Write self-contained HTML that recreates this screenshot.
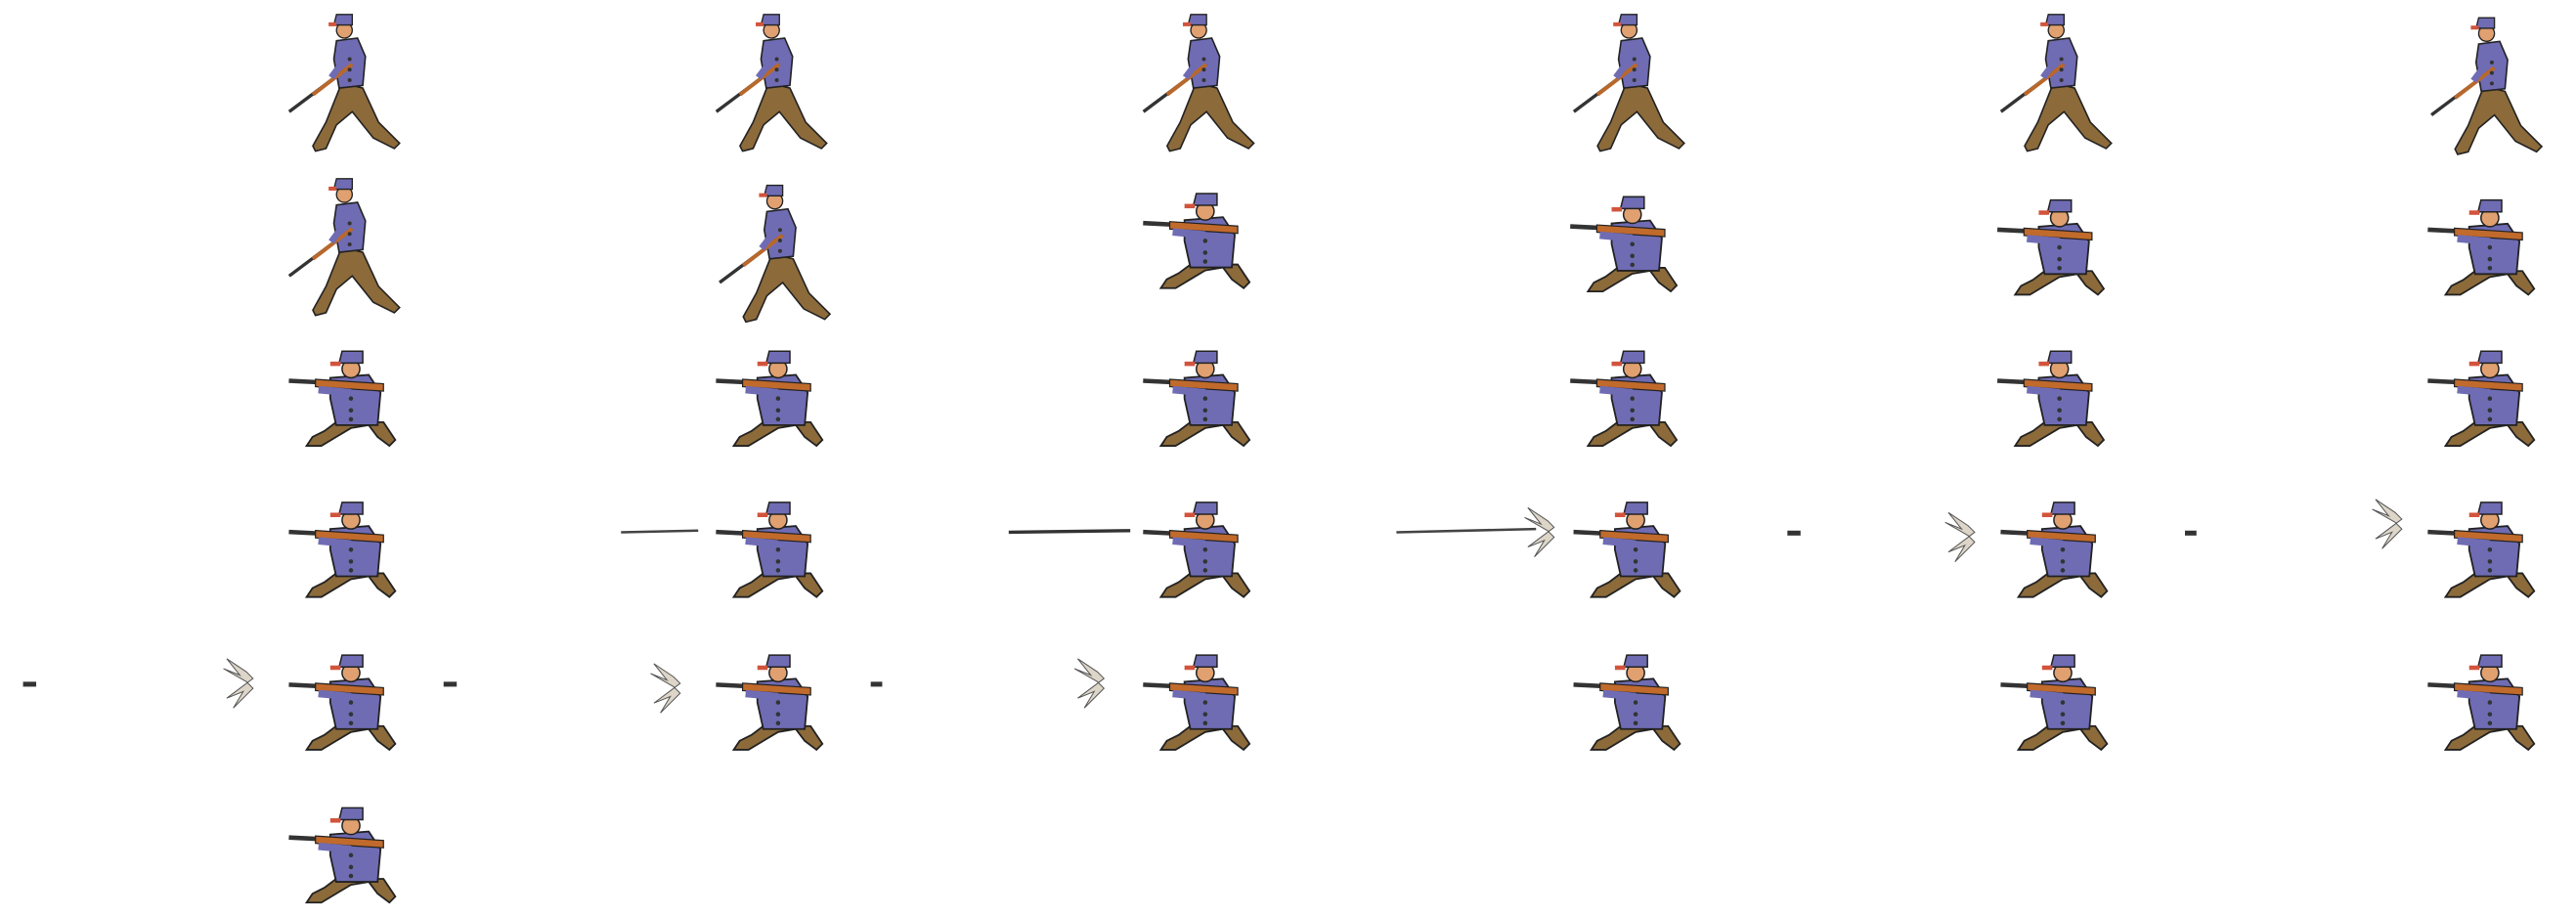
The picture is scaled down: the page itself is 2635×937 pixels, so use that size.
<!DOCTYPE html>
<html><head><meta charset="utf-8"><style>html,body{margin:0;padding:0;background:#fff;width:2635px;height:937px;overflow:hidden}</style></head>
<body>
<svg width="2635" height="937" viewBox="0 0 1568 557.6" xmlns="http://www.w3.org/2000/svg">
<defs>
<g id="stand"><g transform="scale(0.8)">
 <path d="M0 28 L-12 58 L-22 76 L-20 80 L-12 78 L-4 60 L8 50 L24 70 L40 78 L44 74 L28 58 L16 32 Z" fill="#8c6a3a" stroke="#222" stroke-width="1.2"/>
 <path d="M-4 -4 L12 -6 L18 8 L16 30 L-2 32 L-6 10 Z" fill="#6f6cb4" stroke="#222" stroke-width="1.2"/>
 <line x1="-40" y1="50" x2="8" y2="14" stroke="#333" stroke-width="2.5"/>
 <line x1="-22" y1="37" x2="8" y2="14" stroke="#b8682c" stroke-width="3"/>
 <path d="M12 4 L-2 16 L-8 24" stroke="#6f6cb4" stroke-width="5" fill="none"/>
 <circle cx="2" cy="-12" r="6" fill="#e0a070" stroke="#222" stroke-width="1"/>
 <path d="M-6 -16 L-4 -24 L8 -24 L8 -16 Z" fill="#6f6cb4" stroke="#222" stroke-width="1"/>
 <rect x="-10" y="-18" width="6" height="3" fill="#d2543c"/>
 <circle cx="6" cy="10" r="1.5" fill="#333"/><circle cx="6" cy="18" r="1.5" fill="#333"/><circle cx="6" cy="26" r="1.5" fill="#333"/>
</g></g>
<g id="kneel"><g transform="scale(0.9)">
 <path d="M-6 30 L-14 36 L-22 40 L-26 46 L-16 46 L-6 40 L4 34 L16 32 L22 40 L30 46 L34 42 L26 30 Z" fill="#8c6a3a" stroke="#222" stroke-width="1.2"/>
 <path d="M-10 0 L16 -2 L24 10 L22 32 L-6 32 L-10 14 Z" fill="#6f6cb4" stroke="#222" stroke-width="1.2"/>
 <line x1="-38" y1="2" x2="-18" y2="3" stroke="#333" stroke-width="3"/>
 <path d="M-20 1 L26 4 L26 9 L-20 6 Z" fill="#c06a2c" stroke="#222" stroke-width="0.8"/>
 <path d="M-18 8 L4 10" stroke="#6f6cb4" stroke-width="5"/>
 <circle cx="4" cy="-6" r="6" fill="#e0a070" stroke="#222" stroke-width="1"/>
 <path d="M-4 -10 L-2 -18 L12 -18 L12 -10 Z" fill="#6f6cb4" stroke="#222" stroke-width="1"/>
 <rect x="-10" y="-11" width="7" height="3" fill="#d2543c"/>
 <circle cx="4" cy="14" r="1.5" fill="#333"/><circle cx="4" cy="22" r="1.5" fill="#333"/><circle cx="4" cy="28" r="1.5" fill="#333"/>
</g></g>
<g id="flash"><path d="M0 0 L-14 -8 L-4 -4 L-12 -14 L0 -6 L4 -2 L-12 10 L-2 6 L-8 16 L4 4 Z" fill="#ddd6c8" stroke="#555" stroke-width="0.6"/></g>
</defs>
<g>
 <use href="#stand" x="208" y="28"/><use href="#stand" x="468" y="28"/><use href="#stand" x="728" y="28"/>
 <use href="#stand" x="990" y="28"/><use href="#stand" x="1250" y="28"/><use href="#stand" x="1512" y="30"/>
</g>
<g>
 <use href="#stand" x="208" y="128"/><use href="#stand" x="470" y="132"/><use href="#kneel" x="730" y="134"/>
 <use href="#kneel" x="990" y="136"/><use href="#kneel" x="1250" y="138"/><use href="#kneel" x="1512" y="138"/>
</g>
<g>
 <use href="#kneel" x="210" y="230"/><use href="#kneel" x="470" y="230"/><use href="#kneel" x="730" y="230"/>
 <use href="#kneel" x="990" y="230"/><use href="#kneel" x="1250" y="230"/><use href="#kneel" x="1512" y="230"/>
</g>
<g>
 <use href="#kneel" x="210" y="322"/><use href="#kneel" x="470" y="322"/><use href="#kneel" x="730" y="322"/>
 <use href="#kneel" x="992" y="322"/><use href="#kneel" x="1252" y="322"/><use href="#kneel" x="1512" y="322"/>
 <path d="M378 324 L425 323" stroke="#444" stroke-width="1.5"/>
 <path d="M614 324 L688 323" stroke="#333" stroke-width="2"/>
 <path d="M850 324 L935 322" stroke="#444" stroke-width="1.5"/>
 <use href="#flash" x="942" y="323"/>
 <rect x="1088" y="323" width="8" height="3" fill="#333"/>
 <use href="#flash" x="1198" y="326"/>
 <rect x="1330" y="323" width="7" height="3" fill="#333"/>
 <use href="#flash" x="1458" y="318"/>
</g>
<g>
 <use href="#kneel" x="210" y="415"/><use href="#kneel" x="470" y="415"/><use href="#kneel" x="730" y="415"/>
 <use href="#kneel" x="992" y="415"/><use href="#kneel" x="1252" y="415"/><use href="#kneel" x="1512" y="415"/>
 <rect x="14" y="415" width="8" height="3" fill="#333"/>
 <use href="#flash" x="150" y="415"/>
 <rect x="270" y="415" width="8" height="3" fill="#333"/>
 <use href="#flash" x="410" y="418"/>
 <rect x="530" y="415" width="7" height="3" fill="#333"/>
 <use href="#flash" x="668" y="415"/>
</g>
<g>
 <use href="#kneel" x="210" y="508"/>
</g>
</svg>
</body></html>
